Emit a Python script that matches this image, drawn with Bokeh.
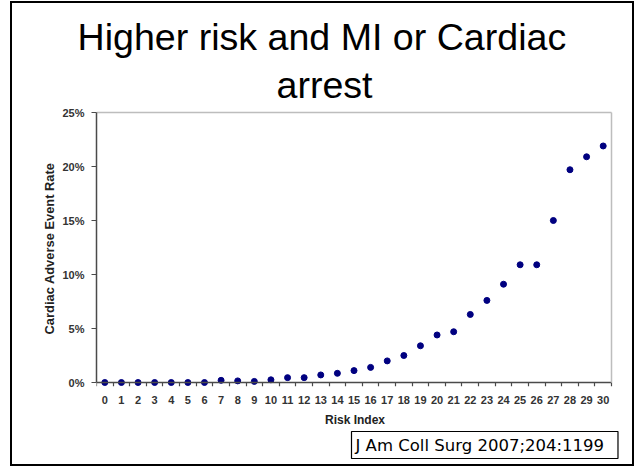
from bokeh.plotting import figure
from bokeh.models import Range1d, FixedTicker, LinearAxis, Title
from bokeh.embed import file_html
from bokeh.resources import INLINE

# ---------------- data ----------------
risk_index = list(range(31))
event_rate = [0.0, 0.0, 0.0, 0.0, 0.0, 0.0, 0.0, 0.2, 0.15, 0.1,
              0.25, 0.45, 0.45, 0.7, 0.85, 1.1, 1.4, 2.0, 2.5, 3.4,
              4.4, 4.7, 6.3, 7.6, 9.1, 10.9, 10.9, 15.0, 19.7, 20.9, 21.9]
y_ticks = [0, 5, 10, 15, 20, 25]
y_tick_labels = ["0%", "5%", "10%", "15%", "20%", "25%"]
x_tick_labels = [str(i) for i in risk_index]
title_lines = ["Higher risk and MI or Cardiac", "arrest"]
y_label = "Cardiac Adverse Event Rate"
x_label = "Risk Index"
citation = "J Am Coll Surg 2007;204:1199"

# ---------------- layout (canvas pixels) ----------------
W, H = 624, 465
FL, FR, FT, FB = 84, 601, 107, 383
X0, X1 = -0.5, 30.5          # data extent of the x categories
Y1 = 25.0
PX_X = 515.0 / 31            # px per x unit
PX_Y = 10.8                  # px per percent
X_START = X0
X_END = X1 + (FR - FL - 515) / PX_X
Y_END = Y1 + 2 / PX_Y
Y_START = -(FB - FT - (Y_END * PX_Y)) / PX_Y

p = figure(width=W, height=H,
           x_range=Range1d(X_START, X_END), y_range=Range1d(Y_START, Y_END),
           x_axis_type=None, y_axis_type=None,
           output_backend="svg", toolbar_location=None,
           min_border_left=FL, min_border_right=W - FR,
           min_border_top=FT, min_border_bottom=H - FB)
p.outline_line_color = None
p.background_fill_color = "white"
p.border_fill_color = "white"
p.styles = {"border": "2px solid black", "margin": "1px 0px 0px 10px"}

TICK_FONT = "Liberation Sans"
AX_COL = "#4a4a4a"
LBL_COL = "#333333"

# tick labels + axis title for x (no line)
xlab = LinearAxis(ticker=FixedTicker(ticks=risk_index, minor_ticks=[]),
                  major_label_overrides={i: s for i, s in zip(risk_index, x_tick_labels)},
                  axis_label=x_label)
xlab.axis_line_color = None
xlab.major_tick_line_color = None
xlab.minor_tick_line_color = None
xlab.major_tick_out = 0
xlab.major_label_standoff = 9
xlab.major_label_text_font = TICK_FONT
xlab.major_label_text_font_style = "bold"
xlab.major_label_text_font_size = "11px"
xlab.major_label_text_color = LBL_COL
xlab.axis_label_standoff = 6
xlab.axis_label_text_font = TICK_FONT
xlab.axis_label_text_font_style = "bold"
xlab.axis_label_text_font_size = "12px"
xlab.axis_label_text_color = "#222222"
p.add_layout(xlab, "below")

# citation
p.add_layout(Title(text=citation, align="left", offset=255,
                   text_font="DejaVu Sans", text_font_size="16.5px",
                   text_font_style="normal", text_color="black",
                   border_line_color="black", border_line_width=1.2,
                   padding=(4, 14, 4, 4), standoff=0), "below")

# x axis line with boundary ticks at 0%
xline = LinearAxis(ticker=FixedTicker(ticks=[], minor_ticks=[i - 0.5 for i in range(32)]),
                   fixed_location=0, bounds=(X0, X1))
xline.axis_line_color = AX_COL
xline.axis_line_width = 1.5
xline.major_tick_line_color = None
xline.minor_tick_out = 4
xline.minor_tick_in = 0
xline.minor_tick_line_color = AX_COL
xline.minor_tick_line_width = 1.2
xline.major_label_text_font_size = "0px"
p.add_layout(xline, "below")

yaxis = LinearAxis(ticker=FixedTicker(ticks=y_ticks, minor_ticks=[]),
                   bounds=(0, Y1),
                   major_label_overrides={t: s for t, s in zip(y_ticks, y_tick_labels)},
                   axis_label=y_label)
yaxis.axis_line_color = AX_COL
yaxis.axis_line_width = 1.5
yaxis.major_tick_out = 5
yaxis.major_tick_in = 0
yaxis.major_tick_line_color = AX_COL
yaxis.major_tick_line_width = 1.2
yaxis.minor_tick_line_color = None
yaxis.major_label_standoff = 7
yaxis.major_label_text_font = TICK_FONT
yaxis.major_label_text_font_style = "bold"
yaxis.major_label_text_font_size = "11px"
yaxis.major_label_text_color = LBL_COL
yaxis.axis_label_standoff = 2
yaxis.axis_label_text_font = TICK_FONT
yaxis.axis_label_text_font_style = "bold"
yaxis.axis_label_text_font_size = "12.9px"
yaxis.axis_label_text_color = "#222222"
p.add_layout(yaxis, "left")

# title (second line closest to the plot)
p.add_layout(Title(text=title_lines[1], align="left", offset=180,
                   text_font="Liberation Sans",
                   text_font_size="37.6px", text_font_style="normal",
                   text_color="black", standoff=9), "above")
p.add_layout(Title(text=title_lines[0], align="left", offset=-19,
                   text_font="Liberation Sans",
                   text_font_size="37.6px", text_font_style="normal",
                   text_color="black", standoff=0), "above")

# light grey frame lines on top and right
top = LinearAxis(ticker=FixedTicker(ticks=[], minor_ticks=[]), fixed_location=Y1,
                 bounds=(X0, X1))
right = LinearAxis(ticker=FixedTicker(ticks=[], minor_ticks=[]), fixed_location=X1,
                   bounds=(0, Y1))
for ax in (top, right):
    ax.axis_line_color = "#bdbdbd"
    ax.axis_line_width = 1.5
    ax.major_label_text_font_size = "0px"
p.add_layout(top, "above")
p.add_layout(right, "right")

# points
p.scatter(risk_index, event_rate, size=6, color="#000080", line_color="#000080")

open("out.html", "w").write(file_html(p, INLINE))
